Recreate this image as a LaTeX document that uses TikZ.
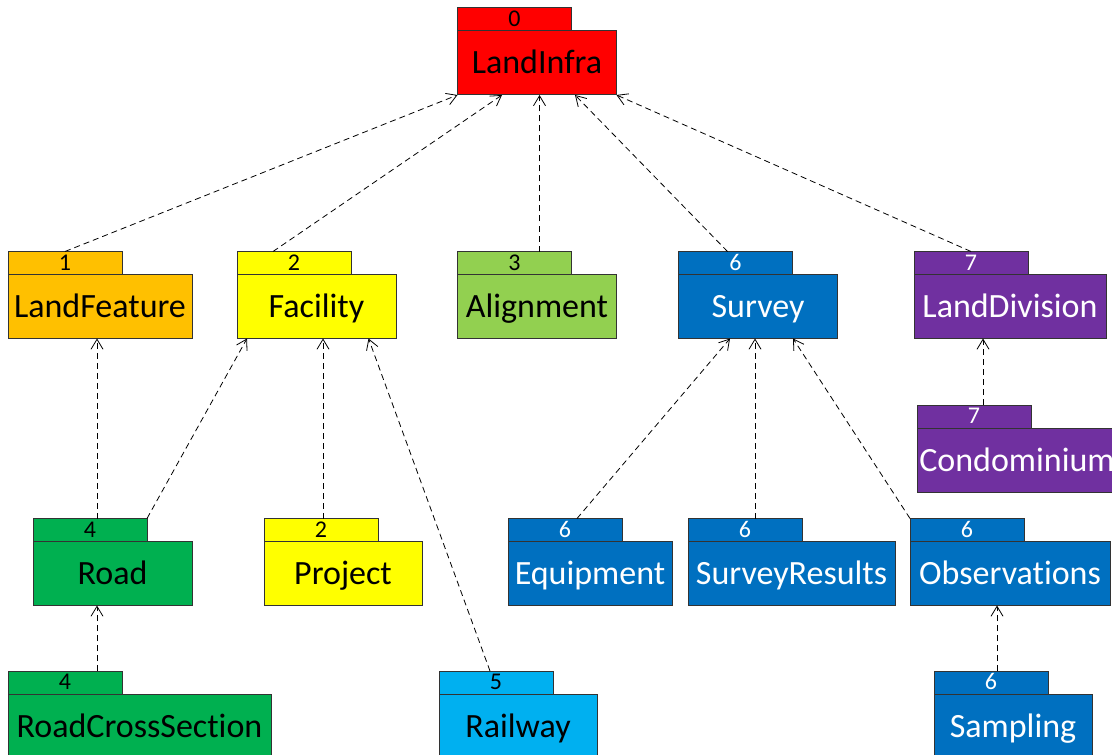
\documentclass[tikz,border=0pt]{standalone}
\usepackage{fontspec}
\setmainfont{Carlito}[Ligatures=NoCommon]
\usepackage{xcolor}
\usetikzlibrary{arrows.meta, positioning}

\definecolor{pkgred}{HTML}{FF0000}
\definecolor{pkgorange}{HTML}{FFC000}
\definecolor{pkgyellow}{HTML}{FFFF00}
\definecolor{pkglime}{HTML}{92D050}
\definecolor{pkgblue}{HTML}{0070C0}
\definecolor{pkgpurple}{HTML}{7030A0}
\definecolor{pkggreen}{HTML}{00B050}
\definecolor{pkgsky}{HTML}{00B0F0}

\begin{document}
\begin{tikzpicture}[
    pkg/.style={
        rectangle,
        draw=black!80,
        line width=0.5pt,
        minimum width=79.5pt,
        minimum height=32pt,
        inner sep=0pt,
        outer sep=0pt,
        text height=14pt,
        text depth=3pt,
        font=\fontsize{17}{19}\selectfont
    },
    tab/.style={
        rectangle,
        draw=black!80,
        line width=0.5pt,
        minimum width=57pt,
        minimum height=11.5pt,
        inner sep=0pt,
        outer sep=0pt,
        text height=7.5pt,
        text depth=0.5pt,
        anchor=south west,
        font=\fontsize{12}{13}\selectfont
    },
    dep/.style={
        -{Straight Barb[length=5pt,width=6pt]},
        dash pattern=on 3pt off 2pt,
        line width=0.4pt
    }
]
\useasboundingbox (0,0) rectangle (556pt,-377pt);

% Packages
\node[pkg, fill=pkgred] (li) at (268.5pt,-31.5pt) {LandInfra};
\node[tab, fill=pkgred, above=0pt of li.north west, anchor=south west] (li-tab) {0};

\node[pkg, fill=pkgorange, minimum width=92pt] (lf) at (50pt,-153.25pt) {LandFeature};
\node[tab, fill=pkgorange, above=0pt of lf.north west, anchor=south west] (lf-tab) {1};

\node[pkg, fill=pkgyellow] (fac) at (158.25pt,-153.25pt) {Facility};
\node[tab, fill=pkgyellow, above=0pt of fac.north west, anchor=south west] (fac-tab) {2};

\node[pkg, fill=pkglime] (al) at (268.5pt,-153.25pt) {Alignment};
\node[tab, fill=pkglime, above=0pt of al.north west, anchor=south west] (al-tab) {3};

\node[pkg, fill=pkgblue, text=white] (sv) at (379pt,-153.25pt) {Survey};
\node[tab, fill=pkgblue, text=white, above=0pt of sv.north west, anchor=south west] (sv-tab) {6};

\node[pkg, fill=pkgpurple, text=white, minimum width=96pt] (ld) at (505pt,-153.25pt) {LandDivision};
\node[tab, fill=pkgpurple, text=white, above=0pt of ld.north west, anchor=south west] (ld-tab) {7};

\node[pkg, fill=pkgpurple, text=white, minimum width=100pt] (cd) at (508.5pt,-230pt) {Condominium};
\node[tab, fill=pkgpurple, text=white, above=0pt of cd.north west, anchor=south west] (cd-tab) {7};

\node[pkg, fill=pkggreen] (rd) at (56.25pt,-286.75pt) {Road};
\node[tab, fill=pkggreen, above=0pt of rd.north west, anchor=south west] (rd-tab) {4};

\node[pkg, fill=pkgyellow, minimum width=79pt] (pj) at (171.5pt,-286.75pt) {Project};
\node[tab, fill=pkgyellow, above=0pt of pj.north west, anchor=south west] (pj-tab) {2};

\node[pkg, fill=pkgblue, text=white, minimum width=82pt] (eq) at (295pt,-286.75pt) {Equipment};
\node[tab, fill=pkgblue, text=white, above=0pt of eq.north west, anchor=south west] (eq-tab) {6};

\node[pkg, fill=pkgblue, text=white, minimum width=103.5pt] (sr) at (395.75pt,-286.75pt) {SurveyResults};
\node[tab, fill=pkgblue, text=white, above=0pt of sr.north west, anchor=south west] (sr-tab) {6};

\node[pkg, fill=pkgblue, text=white, minimum width=100pt] (ob) at (505pt,-286.75pt) {Observations};
\node[tab, fill=pkgblue, text=white, above=0pt of ob.north west, anchor=south west] (ob-tab) {6};

\node[pkg, fill=pkggreen, minimum width=131.5pt] (rcs) at (69.75pt,-363pt) {RoadCrossSection};
\node[tab, fill=pkggreen, above=0pt of rcs.north west, anchor=south west] (rcs-tab) {4};

\node[pkg, fill=pkgsky, minimum width=79pt] (rw) at (259pt,-363pt) {Railway};
\node[tab, fill=pkgsky, above=0pt of rw.north west, anchor=south west] (rw-tab) {5};

\node[pkg, fill=pkgblue, text=white, minimum width=79pt] (sa) at (506.5pt,-363pt) {Sampling};
\node[tab, fill=pkgblue, text=white, above=0pt of sa.north west, anchor=south west] (sa-tab) {6};

% Dependencies
\draw[dep] (lf-tab.north) -- (li.south west);
\draw[dep] ([xshift=-10.5pt]fac-tab.north) -- ([xshift=-17.5pt]li.south);
\draw[dep] ([xshift=12.5pt]al-tab.north) -- ([xshift=12.5pt]al-tab.north |- li.south);
\draw[dep] ([xshift=-4pt]sv-tab.north) -- ([xshift=19pt]li.south);
\draw[dep] (ld-tab.north) -- (li.south east);
\draw[dep] ([xshift=3.5pt]rd-tab.north) -- ([xshift=3.5pt]rd-tab.north |- lf.south);
\draw[dep] (rd-tab.north east) -- ([xshift=5pt]fac.south west);
\draw[dep] ([xshift=1pt]pj-tab.north) -- ([xshift=1pt]pj-tab.north |- fac.south);
\draw[dep] ([xshift=-3pt]rw-tab.north) -- ([xshift=26pt]fac.south);
\draw[dep] ([xshift=6pt]eq-tab.north) -- ([xshift=-14pt]sv.south);
\draw[dep] ([xshift=5pt]sr-tab.north) -- ([xshift=5pt]sr-tab.north |- sv.south);
\draw[dep] (ob-tab.north west) -- ([xshift=17.5pt]sv.south);
\draw[dep] ([xshift=4.5pt]cd-tab.north) -- ([xshift=4.5pt]cd-tab.north |- ld.south);
\draw[dep] ([xshift=16pt]rcs-tab.north) -- ([xshift=16pt]rcs-tab.north |- rd.south);
\draw[dep] ([xshift=3pt]sa-tab.north) -- ([xshift=3pt]sa-tab.north |- ob.south);

\end{tikzpicture}
\end{document}
